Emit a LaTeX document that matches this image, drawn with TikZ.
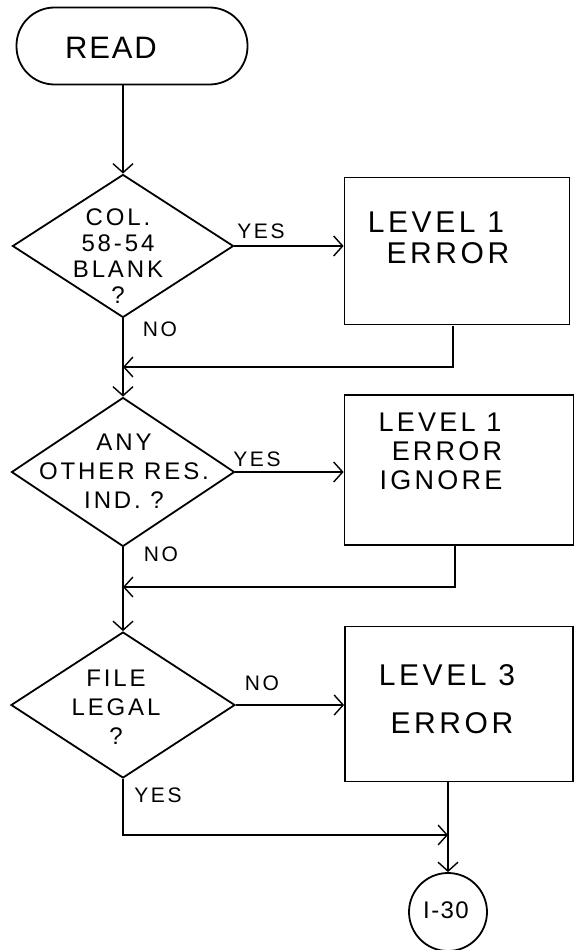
\documentclass[tikz,border=0pt]{standalone}
\usepackage{fontspec}
\newfontfamily\handfont[LetterSpace=12]{Liberation Sans}
\newfontfamily\handtight[LetterSpace=6]{Liberation Sans}
\usetikzlibrary{shapes.geometric,arrows.meta}
\newcommand\fsz[2]{\fontsize{#1}{#2}\selectfont}
\tikzset{
  shape line/.style={draw=black, line width=1.8pt},
  term/.style={shape line, rectangle, rounded corners=38pt, minimum width=231pt, minimum height=77pt, inner sep=0pt},
  dia/.style={shape line, diamond, inner sep=0pt},
  procbox/.style={shape line, rectangle, inner sep=0pt},
  conn/.style={shape line, circle, minimum size=78pt, inner sep=0pt},
  dtext/.style={font=\handfont\fsz{24}{29}, align=center, inner sep=0pt},
  btext/.style={font=\handfont\fsz{30}{32}, inner sep=0pt},
  btextsm/.style={font=\handfont\fsz{27}{29}, inner sep=0pt},
  lbl/.style={font=\handfont\fsz{21}{22}, inner sep=0pt},
  flow/.style={draw=black, line width=1.4pt},
  arr/.style={flow, -{Straight Barb[length=9pt,width=20pt,line width=1.4pt]}},
}
\begin{document}
\begin{tikzpicture}[x=1pt,y=1pt]
\useasboundingbox (0,0) rectangle (581,-950);
% shapes
\node[term] (read) at (132,-46) {};
\node[font=\handtight\fsz{31}{32}, inner sep=0pt] (readt) at (111,-48) {READ};

\node[dia, minimum width=221pt, minimum height=143pt] (d1) at (123,-246) {};
\node[dtext, font=\handfont\fsz{24}{26}] (d1t) at (118,-256) {COL.\\58-54\\BLANK\\?};

\node[dia, minimum width=223pt, minimum height=149pt] (d2) at (123,-472) {};
\node[dtext] (d2t) at (124,-471) {ANY\\OTHER RES.\\IND. ?};

\node[dia, minimum width=224pt, minimum height=146pt] (d3) at (123,-705) {};
\node[dtext] (d3t) at (116,-707) {FILE\\LEGAL\\?};

\node[procbox, minimum width=225pt, minimum height=147pt] (b1) at (457,-251) {};
\node[btext] (b1a) at (436,-222) {LEVEL 1};
\node[btext] (b1b) at (448,-253) {ERROR};

\node[procbox, minimum width=229pt, minimum height=150pt] (b2) at (459,-470) {};
\node[btextsm] (b2a) at (440,-422) {LEVEL 1};
\node[btextsm] (b2b) at (447,-451) {ERROR};
\node[btextsm] (b2c) at (441,-480) {IGNORE};

\node[procbox, minimum width=228pt, minimum height=155pt] (b3) at (459,-704) {};
\node[btext] (b3a) at (447,-675) {LEVEL 3};
\node[btext] (b3b) at (452,-723) {ERROR};

\node[conn] (c) at (448,-912) {};
\node[font=\handtight\fsz{24}{26}, inner sep=0pt] (ct) at (446,-910) {I-30};

% junction points
\coordinate (j1) at (d1.south |- 0,-367);
\coordinate (j2) at (d2.south |- 0,-587);
\coordinate (j3) at (c.north |- 0,-835);
\coordinate (s1) at (453,-325.5);
\coordinate (s2) at (455,-545);

% connectors
\draw[arr] (read.south -| d1.north) -- (d1.north);
\draw[arr] (d1.east) -- (d1.east -| b1.west);
\draw[arr] (s1) |- (j1);
\draw[arr] (d1.south) -- (d2.north);
\draw[arr] (d2.east) -- (d2.east -| b2.west);
\draw[arr] (s2) |- (j2);
\draw[arr] (d2.south) -- (d3.north);
\draw[arr] (d3.east) -- (d3.east -| b3.west);
\draw[arr] (d3.south) |- (j3);
\draw[arr] (c.north |- b3.south) -- (c.north);

% branch labels
\node[lbl] (y1) at (261,-231) {YES};
\node[lbl] (n1) at (160,-329) {NO};
\node[lbl] (y2) at (257,-459) {YES};
\node[lbl] (n2) at (161,-554) {NO};
\node[lbl] (n3) at (262,-683) {NO};
\node[lbl] (y3) at (158,-795) {YES};
\end{tikzpicture}
\end{document}
